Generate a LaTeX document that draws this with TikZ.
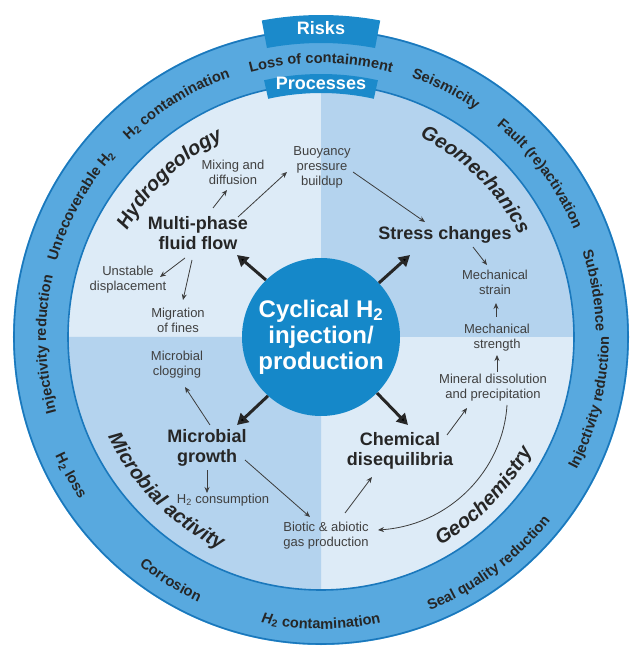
\documentclass[tikz,border=0pt]{standalone}
\usepackage{fontspec}
\setmainfont{Liberation Sans}
\usetikzlibrary{arrows.meta,decorations.text}
\definecolor{ringc}{HTML}{58A9DF}
\definecolor{edgec}{HTML}{1A78BC}
\definecolor{tabc}{HTML}{1B8ACB}
\definecolor{qlight}{HTML}{DDEBF7}
\definecolor{qmed}{HTML}{B4D3EE}
\definecolor{corec}{HTML}{1588C9}
\definecolor{inkc}{HTML}{262626}
\definecolor{smallc}{HTML}{404040}
\newcommand\fsz[2]{\fontsize{#1}{#2}\selectfont}
\newcommand\ringfont{\bfseries\fsz{14.6}{17}}
\newcommand\titlefont{\bfseries\itshape\fsz{20}{22}}
\newcommand\cwtext[4]{\path[decorate,decoration={text along path,text={#4},text align=center,text color=inkc}] (#1+#3:#2) arc[start angle=#1+#3,end angle=#1-#3,radius=#2];}
\newcommand\ccwtext[4]{\path[decorate,decoration={text along path,text={#4},text align=center,text color=inkc}] (#1-#3:#2) arc[start angle=#1-#3,end angle=#1+#3,radius=#2];}
\begin{document}
\begin{tikzpicture}[x=1pt,y=1pt,
 small/.style={align=center,font=\fsz{13}{15},text=smallc,inner sep=1pt},
 proc/.style={align=center,font=\bfseries\fsz{18}{20},text=inkc,inner sep=1pt},
 arr/.style={draw=inkc!90,line width=0.8pt,-{Stealth[length=6pt,width=5pt]}},
 bigarr/.style={draw=inkc,line width=3pt,-{Triangle[length=11pt,width=12pt]}},
 tabtext/.style={text=white,font=\bfseries\fsz{18}{20},inner sep=0pt}
]
\useasboundingbox (-321,-310) rectangle (311,337);
% disk and quadrants
\fill[qlight] (0,0) circle (253);
\fill[qmed] (0,0) -- (0:253) arc[start angle=0,end angle=90,radius=253] -- cycle;
\fill[qmed] (0,0) -- (180:253) arc[start angle=180,end angle=270,radius=253] -- cycle;
% ring
\fill[ringc,even odd rule] (0,0) circle (308) (0,0) circle (253);
\draw[edgec,line width=1.6pt] (0,0) circle (307) (0,0) circle (253);
% tabs
\fill[tabc] (79.4:294) arc[start angle=79.4,end angle=100.6,radius=294] -- (100.6:322) arc[start angle=100.6,end angle=79.4,radius=322] -- cycle;
\node[tabtext] (risks) at (0,309) {Risks};
\fill[tabc] (77.5:244) arc[start angle=77.5,end angle=102.5,radius=244] -- (102.5:263) arc[start angle=102.5,end angle=77.5,radius=263] -- cycle;
\node[tabtext] (processes) at (0,254) {Processes};
% ring texts (risks)
\cwtext{90}{274}{30}{|\ringfont|Loss of containment}
\cwtext{121.8}{275}{30}{|\ringfont|{H\textsubscript{2}} contamination}
\cwtext{151.3}{275}{30}{|\ringfont|Unrecoverable {H\textsubscript{2}}}
\cwtext{181.5}{275}{30}{|\ringfont|Injectivity reduction}
\cwtext{63.3}{275}{30}{|\ringfont|Seismicity}
\cwtext{36.7}{275}{30}{|\ringfont|Fault (re)activation}
\cwtext{9.6}{275}{30}{|\ringfont|Subsidence}
\ccwtext{209}{291}{30}{|\ringfont|{H\textsubscript{2}} loss}
\ccwtext{238.3}{292}{30}{|\ringfont|Corrosion}
\ccwtext{270}{292}{30}{|\ringfont|{{\itshape H}\textsubscript{2}} contamination}
\ccwtext{306.5}{294}{30}{|\ringfont|Seal quality reduction}
\ccwtext{346.3}{288}{30}{|\ringfont|Injectivity reduction}
% quadrant titles
\cwtext{133.8}{221}{40}{|\titlefont|Hydrogeology}
\cwtext{45.5}{223}{40}{|\titlefont|Geomechanics}
\ccwtext{224.8}{235}{40}{|\titlefont|Microbial activity}
\ccwtext{-44.3}{240}{40}{|\titlefont|Geochemistry}
% center
\node[circle,fill=corec,minimum size=158pt,inner sep=0pt,text=white,font=\bfseries\fsz{24}{26},align=center] (core) at (0,0) {Cyclical H\textsubscript{2}\\injection/\\production};
% nodes
\node[proc] (mpf) at (-123,104) {Multi-phase\\fluid flow};
\node[small] (mix) at (-88,165) {Mixing and\\diffusion};
\node[small] (buoy) at (1,170) {Buoyancy\\pressure\\buildup};
\node[small] (unst) at (-193,57) {Unstable\\displacement};
\node[small] (mig) at (-143,17) {Migration\\of fines};
\node[proc] (stress) at (124,102) {Stress changes};
\node[small] (mstrain) at (174,55) {Mechanical\\strain};
\node[small] (mstrength) at (176,-1) {Mechanical\\strength};
\node[small] (mineral) at (172,-51) {Mineral dissolution\\and precipitation};
\node[proc] (chem) at (79,-114) {Chemical\\disequilibria};
\node[small] (biotic) at (5,-199) {Biotic \& abiotic\\gas production};
\node[proc] (micro) at (-114,-111) {Microbial\\growth};
\node[small] (clog) at (-144,-28) {Microbial\\clogging};
\node[small] (h2c) at (-98,-163) {H\textsubscript{2} consumption};
% thick arrows
\draw[bigarr] (core.134) -- ([shift={(39,-22)}]mpf.center);
\draw[bigarr] (core.43) -- ([shift={(-35,-20)}]stress.center);
\draw[bigarr] (core.-45) -- ([shift={(8,26)}]chem.center);
\draw[bigarr] (core.-132) -- ([shift={(30,23)}]micro.center);
% thin arrows
\draw[arr] ([shift={(15,25)}]mpf.center) -- ([shift={(-6,-18)}]mix.center);
\draw[arr] ([shift={(40,16)}]mpf.center) -- ([shift={(-35,-5)}]buoy.center);
\draw[arr] ([shift={(-13,-25)}]mpf.center) -- ([shift={(32,3)}]unst.center);
\draw[arr] ([shift={(-6,-27)}]mpf.center) -- ([shift={(5,20)}]mig.center);
\draw[arr] ([shift={(31,-5)}]buoy.center) -- ([shift={(-20,13)}]stress.center);
\draw[arr] ([shift={(28,-12)}]stress.center) -- ([shift={(-8,17)}]mstrain.center);
\draw[arr] ([shift={(-1,21)}]mstrength.center) -- ([shift={(1,-21)}]mstrain.center);
\draw[arr] ([shift={(4,16)}]mineral.center) -- ([shift={(0,-17)}]mstrength.center);
\draw[arr] ([shift={(47,16)}]chem.center) -- ([shift={(-26,-20)}]mineral.center);
\draw[arr] ([shift={(14,-17)}]mineral.center) .. controls (182,-133) and (129,-188) .. ([shift={(52,6)}]biotic.center);
\draw[arr] ([shift={(19,23)}]biotic.center) -- ([shift={(-28,-26)}]chem.center);
\draw[arr] ([shift={(38,-12)}]micro.center) -- ([shift={(-16,19)}]biotic.center);
\draw[arr] ([shift={(3,23)}]micro.center) -- ([shift={(8,-22)}]clog.center);
\draw[arr] ([shift={(0,-22)}]micro.center) -- ([shift={(-16,7)}]h2c.center);
\end{tikzpicture}
\end{document}
